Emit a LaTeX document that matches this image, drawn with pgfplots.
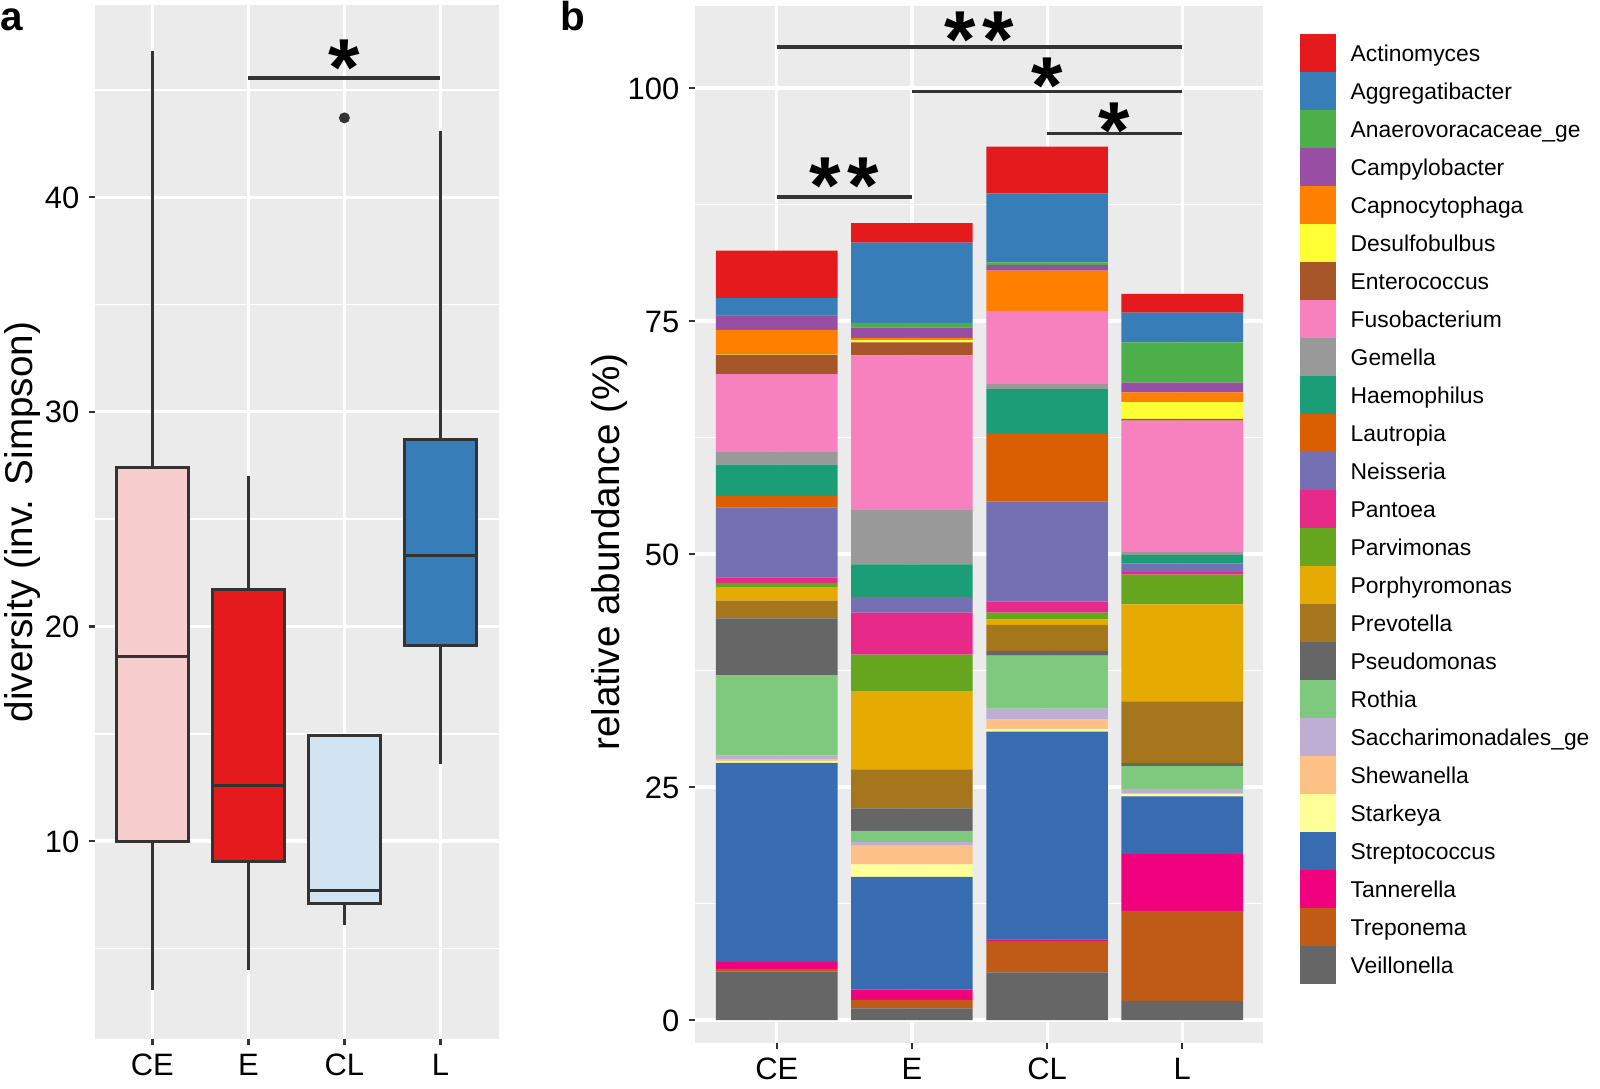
\documentclass[border=0pt]{standalone}
\usepackage{fontspec}
\setmainfont{Liberation Sans}
\setsansfont{Liberation Sans}
\usepackage{pgfplots}
\pgfplotsset{compat=1.18}
\usepgfplotslibrary{statistics}

\definecolor{ggbg}{HTML}{EBEBEB}
\definecolor{ggdark}{HTML}{333333}
\definecolor{cepink}{HTML}{F8CDCE}
\definecolor{ered}{HTML}{E41A1C}
\definecolor{clblue}{HTML}{D2E3F2}
\definecolor{lblue}{HTML}{377EB8}
% genus colours
\definecolor{cActinomyces}{HTML}{E41A1C}
\definecolor{cAggregatibacter}{HTML}{377EB8}
\definecolor{cAnaerovoracaceae}{HTML}{4DAF4A}
\definecolor{cCampylobacter}{HTML}{984EA3}
\definecolor{cCapnocytophaga}{HTML}{FF7F00}
\definecolor{cDesulfobulbus}{HTML}{FFFF33}
\definecolor{cEnterococcus}{HTML}{A65628}
\definecolor{cFusobacterium}{HTML}{F781BF}
\definecolor{cGemella}{HTML}{999999}
\definecolor{cHaemophilus}{HTML}{1B9E77}
\definecolor{cLautropia}{HTML}{D95F02}
\definecolor{cNeisseria}{HTML}{7570B3}
\definecolor{cPantoea}{HTML}{E7298A}
\definecolor{cParvimonas}{HTML}{66A61E}
\definecolor{cPorphyromonas}{HTML}{E6AB02}
\definecolor{cPrevotella}{HTML}{A6761D}
\definecolor{cPseudomonas}{HTML}{666666}
\definecolor{cRothia}{HTML}{7FC97F}
\definecolor{cSaccharimonadales}{HTML}{BEAED4}
\definecolor{cShewanella}{HTML}{FDC086}
\definecolor{cStarkeya}{HTML}{FFFF99}
\definecolor{cStreptococcus}{HTML}{386CB0}
\definecolor{cTannerella}{HTML}{F0027F}
\definecolor{cTreponema}{HTML}{BF5B17}
\definecolor{cVeillonella}{HTML}{666666}

\pgfplotsset{
  ggbase/.style={
    scale only axis, anchor=south west,
    axis background/.style={fill=ggbg},
    axis line style={draw=none},
    tick align=outside, xtick pos=bottom, ytick pos=left,
    major tick length=0.57mm, minor tick length=0pt,
    tick style={draw=ggdark, line width=0.7pt},
    xmajorgrids, ymajorgrids, yminorgrids,
    major grid style={white, line width=0.9pt},
    minor grid style={white, line width=0.45pt},
    tick label style={font=\fontsize{8.8}{8.8}\selectfont, inner sep=0pt,
      text height=6.3pt, text depth=0pt},
    x tick label style={anchor=north},
    y tick label style={anchor=east},
    xticklabel shift=0.8mm, yticklabel shift=0.93mm,
    label style={font=\fontsize{11}{11}\selectfont},
    clip=false,
  },
  sig/.style={ggdark, line width=1pt, sharp plot, mark=none, forget plot},
  box/.style={fill=#1, draw=ggdark, line width=0.85pt},
}
\tikzset{sigstar/.style={anchor=base, inner sep=0pt, font=\bfseries\fontsize{23}{23}\selectfont}}
\newcommand{\twostars}{*\kern0.7mm*}

\begin{document}
\begin{tikzpicture}
\useasboundingbox (0,0) rectangle (160mm,108.8mm);

% ---------- panel a: inverse Simpson boxplots ----------
\begin{axis}[ggbase,
  at={(9.5mm,4.87mm)}, width=40.4mm, height=103.43mm,
  xmin=0.403, xmax=4.61, ymin=0.76, ymax=48.96,
  xtick={1,2,3,4}, xticklabels={CE,E,CL,L},
  ytick={10,20,30,40}, yticklabels={10,20,30,40},
  minor ytick={5,15,25,35,45},
  ylabel={diversity (inv. Simpson)},
  ylabel style={at={(axis description cs:-0.1795,0.5)}, anchor=center},
  boxplot/draw direction=y,
]
\addplot[boxplot prepared={draw position=1, lower whisker=3.06, lower quartile=10.0,
  median=18.6, upper quartile=27.4, upper whisker=46.8, box extend=0.75, whisker extend=0},
  box=cepink] coordinates {};
\addplot[boxplot prepared={draw position=2, lower whisker=4.0, lower quartile=9.03,
  median=12.6, upper quartile=21.7, upper whisker=27.0, box extend=0.75, whisker extend=0},
  box=ered] coordinates {};
\addplot[boxplot prepared={draw position=3, lower whisker=6.1, lower quartile=7.1,
  median=7.7, upper quartile=14.9, upper whisker=14.9, box extend=0.75, whisker extend=0},
  box=clblue] coordinates {};
\addplot[boxplot prepared={draw position=4, lower whisker=13.6, lower quartile=19.1,
  median=23.3, upper quartile=28.7, upper whisker=43.1, box extend=0.75, whisker extend=0},
  box=lblue] coordinates {};
% outlier of CL
\addplot[only marks, mark=*, mark size=1.35pt, mark options={fill=ggdark, draw=ggdark}]
  coordinates {(3,43.7)};
\addplot[sig] coordinates {(2,45.55) (4,45.55)};
\node[sigstar] at (axis cs:3,44.75) {*};
\end{axis}

% ---------- panel b: relative abundance ----------
\begin{axis}[ggbase,
  at={(69.5mm,4.47mm)}, width=56.83mm, height=103.73mm,
  xmin=0.395, xmax=4.6, ymin=-2.5, ymax=108.8,
  ybar stacked, bar width=0.9,
  xtick={1,2,3,4}, xticklabels={CE,E,CL,L},
  ytick={0,25,50,75,100}, yticklabels={0,25,50,75,100},
  minor ytick={12.5,37.5,62.5,87.5},
  ylabel={relative abundance (\%)},
  ylabel style={at={(axis description cs:-0.1496,0.4736)}, anchor=center},
  reverse legend, legend cell align=left,
  legend image code/.code={\fill[#1] (0mm,-1.9mm) rectangle (3.6mm,1.9mm);},
  legend style={at={(1.0646,0.973)}, anchor=north west, draw=none, fill=none,
    inner sep=0pt, outer sep=0pt, row sep=0pt, column sep=1.47mm,
    font=\fontsize{6.5}{6.5}\selectfont,
    nodes={inner sep=0pt, text height=4.65pt, text depth=0pt}},
]
\addplot[fill=cVeillonella, draw=none] coordinates {(1,5.2) (2,1.25) (3,5.1) (4,2.05)};
\addlegendentry{Veillonella}
\addplot[fill=cTreponema, draw=none] coordinates {(1,0.3) (2,0.9) (3,3.4) (4,9.65)};
\addlegendentry{Treponema}
\addplot[fill=cTannerella, draw=none] coordinates {(1,0.7) (2,1.1) (3,0.15) (4,6.1)};
\addlegendentry{Tannerella}
\addplot[fill=cStreptococcus, draw=none] coordinates {(1,21.4) (2,12.1) (3,22.3) (4,6.2)};
\addlegendentry{Streptococcus}
\addplot[fill=cStarkeya, draw=none] coordinates {(1,0.2) (2,1.35) (3,0.3) (4,0.25)};
\addlegendentry{Starkeya}
\addplot[fill=cShewanella, draw=none] coordinates {(1,0.2) (2,2.0) (3,1.0) (4,0.1)};
\addlegendentry{Shewanella}
\addplot[fill=cSaccharimonadales, draw=none] coordinates {(1,0.4) (2,0.4) (3,1.15) (4,0.45)};
\addlegendentry{Saccharimonadales\_ge}
\addplot[fill=cRothia, draw=none] coordinates {(1,8.6) (2,1.2) (3,5.7) (4,2.45)};
\addlegendentry{Rothia}
\addplot[fill=cPseudomonas, draw=none] coordinates {(1,6.1) (2,2.4) (3,0.5) (4,0.3)};
\addlegendentry{Pseudomonas}
\addplot[fill=cPrevotella, draw=none] coordinates {(1,1.9) (2,4.2) (3,2.8) (4,6.65)};
\addlegendentry{Prevotella}
\addplot[fill=cPorphyromonas, draw=none] coordinates {(1,1.4) (2,8.4) (3,0.6) (4,10.4)};
\addlegendentry{Porphyromonas}
\addplot[fill=cParvimonas, draw=none] coordinates {(1,0.5) (2,3.9) (3,0.7) (4,3.2)};
\addlegendentry{Parvimonas}
\addplot[fill=cPantoea, draw=none] coordinates {(1,0.6) (2,4.5) (3,1.2) (4,0.25)};
\addlegendentry{Pantoea}
\addplot[fill=cNeisseria, draw=none] coordinates {(1,7.5) (2,1.6) (3,10.75) (4,0.95)};
\addlegendentry{Neisseria}
\addplot[fill=cLautropia, draw=none] coordinates {(1,1.25) (2,0.1) (3,7.25) (4,0)};
\addlegendentry{Lautropia}
\addplot[fill=cHaemophilus, draw=none] coordinates {(1,3.35) (2,3.5) (3,4.8) (4,0.9)};
\addlegendentry{Haemophilus}
\addplot[fill=cGemella, draw=none] coordinates {(1,1.4) (2,5.9) (3,0.55) (4,0.3)};
\addlegendentry{Gemella}
\addplot[fill=cFusobacterium, draw=none] coordinates {(1,8.3) (2,16.5) (3,7.85) (4,14.1)};
\addlegendentry{Fusobacterium}
\addplot[fill=cEnterococcus, draw=none] coordinates {(1,2.1) (2,1.4) (3,0) (4,0.2)};
\addlegendentry{Enterococcus}
\addplot[fill=cDesulfobulbus, draw=none] coordinates {(1,0.05) (2,0.25) (3,0) (4,1.8)};
\addlegendentry{Desulfobulbus}
\addplot[fill=cCapnocytophaga, draw=none] coordinates {(1,2.6) (2,0.25) (3,4.3) (4,1.05)};
\addlegendentry{Capnocytophaga}
\addplot[fill=cCampylobacter, draw=none] coordinates {(1,1.5) (2,1.1) (3,0.6) (4,1.05)};
\addlegendentry{Campylobacter}
\addplot[fill=cAnaerovoracaceae, draw=none] coordinates {(1,0.1) (2,0.5) (3,0.3) (4,4.3)};
\addlegendentry{Anaerovoracaceae\_ge}
\addplot[fill=cAggregatibacter, draw=none] coordinates {(1,1.8) (2,8.6) (3,7.4) (4,3.2)};
\addlegendentry{Aggregatibacter}
\addplot[fill=cActinomyces, draw=none] coordinates {(1,5.1) (2,2.1) (3,5.0) (4,2.0)};
\addlegendentry{Actinomyces}
% significance brackets
\addplot[sig, stack plots=false] coordinates {(1,88.3) (2,88.3)};
\addplot[sig, stack plots=false] coordinates {(3,95.1) (4,95.1)};
\addplot[sig, stack plots=false] coordinates {(2,99.6) (4,99.6)};
\addplot[sig, stack plots=false] coordinates {(1,104.4) (4,104.4)};
\node[sigstar] at (axis cs:1.5,86.5) {\twostars};
\node[sigstar] at (axis cs:3.5,92.4) {*};
\node[sigstar] at (axis cs:3,97.3) {*};
\node[sigstar] at (axis cs:2.5,102.2) {\twostars};
\end{axis}

\node[anchor=base west, inner sep=0pt, font=\bfseries\fontsize{11.5}{11.5}\selectfont] at (0mm,105.75mm) {a};
\node[anchor=base west, inner sep=0pt, font=\bfseries\fontsize{11.5}{11.5}\selectfont] at (56mm,105.75mm) {b};
\end{tikzpicture}
\end{document}
